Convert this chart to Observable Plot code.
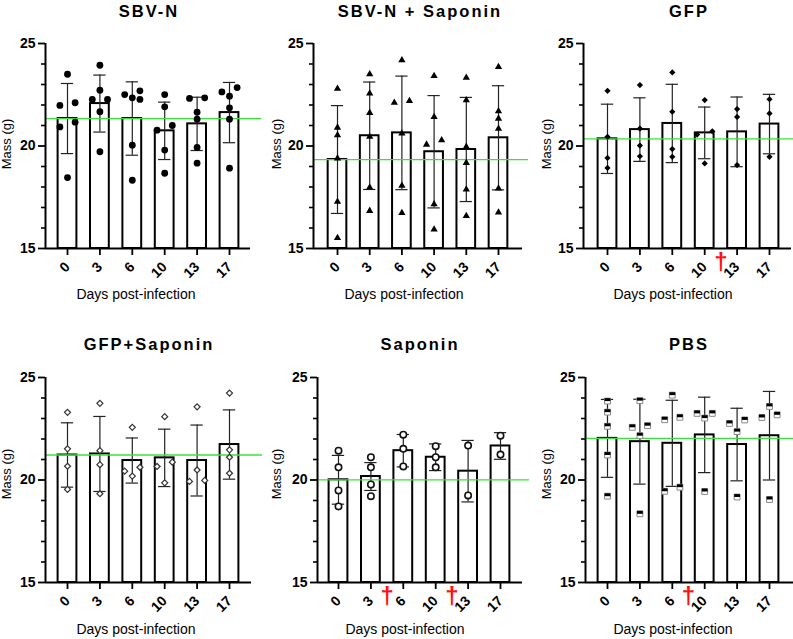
<!DOCTYPE html>
<html><head><meta charset="utf-8">
<script src="https://cdn.jsdelivr.net/npm/d3@7"></script>
<script src="https://cdn.jsdelivr.net/npm/@observablehq/plot@0.6"></script>
<style>
body{margin:0;background:#fff;}
#wrap{position:relative;width:793px;height:639px;overflow:hidden;background:#fff;font-family:"Liberation Sans",Arial,sans-serif;}
#wrap svg{position:absolute;overflow:visible;}
</style></head><body><div id="wrap"></div>
<script>
// ---------- data ----------
const days = ["0","3","6","10","13","17"];
const yMajorTicks = [15, 20, 25];
const yMinorTicks = [16, 17, 18, 19, 21, 22, 23, 24];
const titles = ["SBV-N", "SBV-N + Saponin", "GFP", "GFP+Saponin", "Saponin", "PBS"];
const xLabel = "Days post-infection";
const yLabel = "Mass (g)";

const sbvN_points = [
  [23.50, 22.11, 21.98, 21.16, 20.93, 18.46],
  [23.94, 22.72, 22.27, 22.27, 21.67, 19.72],
  [22.69, 22.51, 22.35, 22.27, 20.04, 18.33],
  [22.51, 21.91, 21.00, 20.77, 19.80, 18.67],
  [22.35, 22.32, 21.65, 21.31, 19.93, 19.16],
  [22.85, 22.64, 22.43, 21.86, 21.31, 18.92]
];
const sbvN_mean = [21.34, 22.07, 21.34, 20.74, 21.08, 21.63];
const sbvN_sd = [1.71, 1.39, 1.79, 1.40, 1.30, 1.47];
const sbvN_deaths = [];

const sbvNSap_points = [
  [22.80, 20.90, 20.53, 19.40, 17.28, 15.52],
  [23.50, 22.56, 21.62, 20.45, 17.98, 16.84],
  [24.19, 22.20, 22.11, 20.61, 18.06, 16.74],
  [23.42, 21.42, 20.28, 20.07, 17.16, 15.93],
  [23.33, 22.24, 19.96, 19.18, 17.88, 16.59],
  [23.86, 21.70, 21.34, 20.85, 17.93, 16.76]
];
const sbvNSap_mean = [19.34, 20.50, 20.64, 19.72, 19.83, 20.40];
const sbvNSap_sd = [2.63, 2.62, 2.77, 2.74, 2.54, 2.54];
const sbvNSap_deaths = [];

const gfp_points = [
  [22.69, 20.45, 19.42, 18.93],
  [22.97, 20.85, 20.02, 19.50],
  [23.59, 21.67, 19.85, 19.47],
  [22.24, 20.72, 20.56, 19.15],
  [21.80, 21.42, 19.07],
  [22.28, 21.59, 19.47]
];
const gfp_mean = [20.35, 20.80, 21.10, 20.64, 20.69, 21.07];
const gfp_sd = [1.69, 1.55, 1.91, 1.26, 1.70, 1.45];
const gfp_deaths = ["10"];

const gfpSap_points = [
  [23.30, 21.52, 20.67, 19.54],
  [23.74, 21.43, 20.75, 19.33],
  [22.57, 20.62, 20.43, 20.19],
  [23.09, 20.87, 20.66, 19.86],
  [23.57, 20.49, 19.98, 19.93],
  [24.24, 21.47, 21.11, 20.33]
];
const gfpSap_mean = [21.22, 21.27, 20.95, 21.08, 20.95, 21.73];
const gfpSap_sd = [1.57, 1.83, 1.10, 1.40, 1.73, 1.69];
const gfpSap_deaths = [];

const sap_points = [
  [21.43, 20.62, 19.49, 18.71],
  [21.11, 20.62, 19.78, 19.21],
  [22.21, 21.52, 20.66],
  [21.65, 21.11, 20.62],
  [21.68, 19.25],
  [22.16, 21.24]
];
const sap_mean = [20.01, 20.17, 21.43, 21.11, 20.43, 21.66];
const sap_sd = [1.19, 0.68, 0.79, 0.65, 1.50, 0.65];
const sap_deaths = ["3", "10"];

const pbs_points = [
  [23.85, 23.31, 22.62, 21.22, 19.21],
  [23.87, 22.65, 22.57, 22.16, 18.35],
  [24.14, 23.06, 22.94, 19.65, 19.45],
  [23.25, 23.25, 23.02, 19.44],
  [22.93, 22.76, 22.36, 19.17],
  [23.59, 23.18, 23.05, 19.05]
];
const pbs_mean = [22.03, 21.87, 21.79, 22.20, 21.73, 22.16];
const pbs_sd = [1.90, 2.07, 2.10, 1.84, 1.77, 2.16];
const pbs_deaths = ["6"];

// ---------- styling / layout ----------
const GREEN = "#3be03b";
const halfSquare = {
  draw(ctx, size) {
    const w = Math.sqrt(size);
    ctx.moveTo(-w / 2, -w / 2); ctx.lineTo(w / 2, -w / 2);
    ctx.lineTo(w / 2, 0); ctx.lineTo(-w / 2, 0); ctx.closePath();
  }
};
const symbolStyles = {
  filledCircle: [{symbol: "circle", r: 3.4, fill: "#000", stroke: "none"}],
  filledTriangle: [{symbol: "triangle", r: 2.7, fill: "#000", stroke: "none"}],
  filledDiamond: [{symbol: "diamond2", r: 2.8, fill: "#000", stroke: "none"}],
  openDiamond: [{symbol: "diamond2", r: 2.7, fill: "#fff", stroke: "#333", strokeWidth: 1.2}],
  openCircle: [{symbol: "circle", r: 3.2, fill: "#fff", stroke: "#111", strokeWidth: 1.6}],
  halfSquare: [{symbol: "square", r: 3.3, fill: "#fff", stroke: "#888", strokeWidth: 1},
               {symbol: halfSquare, r: 3.3, fill: "#000", stroke: "none"}]
};

const panels = [
  {title: titles[0], points: sbvN_points, mean: sbvN_mean, sd: sbvN_sd, deaths: sbvN_deaths, sym: "filledCircle",
   left: 0, top: 0, ax: 45, c0: 67, step: 32.4, axisEnd: 250, greenEnd: 261, yTop: 43, yBot: 248,
   titleX: 148, titleY: 17, yLabX: 11, yLabY: 144, xLabX: 136, xLabY: 299},
  {title: titles[1], points: sbvNSap_points, mean: sbvNSap_mean, sd: sbvNSap_sd, deaths: sbvNSap_deaths, sym: "filledTriangle",
   left: 265, top: 0, ax: 313, c0: 337, step: 32.2, axisEnd: 522, greenEnd: 528, yTop: 43, yBot: 248,
   titleX: 419, titleY: 17, yLabX: 281, yLabY: 144, xLabX: 404, xLabY: 299},
  {title: titles[2], points: gfp_points, mean: gfp_mean, sd: gfp_sd, deaths: gfp_deaths, sym: "filledDiamond",
   left: 530, top: 0, ax: 583, c0: 607, step: 32.4, axisEnd: 791, greenEnd: 793, yTop: 43, yBot: 248,
   titleX: 688, titleY: 17, yLabX: 551, yLabY: 144, xLabX: 673, xLabY: 299},
  {title: titles[3], points: gfpSap_points, mean: gfpSap_mean, sd: gfpSap_sd, deaths: gfpSap_deaths, sym: "openDiamond",
   left: 0, top: 320, ax: 45, c0: 67, step: 32.4, axisEnd: 251, greenEnd: 262, yTop: 377, yBot: 582,
   titleX: 148, titleY: 350, yLabX: 11, yLabY: 474, xLabX: 136, xLabY: 634},
  {title: titles[4], points: sap_points, mean: sap_mean, sd: sap_sd, deaths: sap_deaths, sym: "openCircle",
   left: 265, top: 320, ax: 317, c0: 338, step: 32.4, axisEnd: 522, greenEnd: 529, yTop: 377, yBot: 582,
   titleX: 419, titleY: 350, yLabX: 281, yLabY: 474, xLabX: 405, xLabY: 634},
  {title: titles[5], points: pbs_points, mean: pbs_mean, sd: pbs_sd, deaths: pbs_deaths, sym: "halfSquare",
   left: 530, top: 320, ax: 585, c0: 607, step: 32.4, axisEnd: 793, greenEnd: 793, yTop: 377, yBot: 582,
   titleX: 688, titleY: 350, yLabX: 551, yLabY: 474, xLabX: 673, xLabY: 634}
];

// horizontal spreading of close values (scatter lanes)
function lanes(vals) {
  const idx = vals.map((v, k) => k).sort((a, b) => vals[b] - vals[a]);
  const out = new Array(vals.length).fill(0);
  const pat = [1, -1, 0];
  let k = 0;
  while (k < idx.length) {
    let j = k;
    while (j + 1 < idx.length && vals[idx[j]] - vals[idx[j + 1]] < 0.3) j++;
    const n = j - k + 1;
    if (n > 1) for (let m = 0; m < n; m++) out[idx[k + m]] = pat[m % 3];
    k = j + 1;
  }
  return out;
}

const wrap = document.getElementById("wrap");
const FONT = "Liberation Sans, Arial, sans-serif";
const HW = 0.29, CAP = 0.19, LANE = 0.235;

for (const p of panels) {
  const rows = days.map((d, i) => ({i, mean: p.mean[i], sd: p.sd[i]}));
  const caps = rows.flatMap(r => [{i: r.i, y: r.mean + r.sd}, {i: r.i, y: r.mean - r.sd}]);
  const pts = p.points.flatMap((vs, i) => { const ln = lanes(vs); return vs.map((v, k) => ({i, v, lane: ln[k]})); });
  const xlo = (p.ax - p.c0) / p.step, xhi = (p.greenEnd - p.c0) / p.step, xEnd = (p.axisEnd - p.c0) / p.step;
  const width = p.greenEnd - p.left;
  const height = 310;
  const marks = [
    Plot.rect(rows, {x1: d => d.i - HW, x2: d => d.i + HW, y1: () => 15, y2: "mean", fill: "#fff", stroke: "#000", strokeWidth: 2}),
    Plot.ruleX(rows, {x: "i", y1: d => d.mean - d.sd, y2: d => d.mean + d.sd, stroke: "#222", strokeWidth: 1.2}),
    Plot.ruleY(caps, {y: "y", x1: d => d.i - CAP, x2: d => d.i + CAP, stroke: "#222", strokeWidth: 1.2}),
    Plot.ruleY([p.mean[0]], {x1: xlo, x2: xhi, stroke: GREEN, strokeWidth: 1.3}),
    ...symbolStyles[p.sym].map(s => Plot.dot(pts, {x: d => d.i + d.lane * LANE, y: "v", ...s})),
    Plot.ruleX([xlo], {y1: 15, y2: 25, stroke: "#000", strokeWidth: 2}),
    Plot.ruleY([15], {x1: xlo, x2: xEnd, stroke: "#000", strokeWidth: 2}),
    Plot.axisY({ticks: yMinorTicks, tickSize: 4, tickFormat: () => "", stroke: "#000", strokeWidth: 1.6, label: null}),
    Plot.axisY({ticks: yMajorTicks, tickSize: 7, tickPadding: 3, fontSize: 14, fontWeight: "bold", fontFamily: FONT, fill: "#000", stroke: "#000", strokeWidth: 1.8, label: null}),
    Plot.axisX({ticks: d3.range(days.length), tickFormat: i => days[i], tickRotate: -45, tickSize: 7, tickPadding: 9, fontSize: 14, fontWeight: "bold", fontFamily: FONT, fill: "#000", stroke: "#000", strokeWidth: 1.8, label: null}),
    Plot.text(p.deaths, {x: d => days.indexOf(d) + 0.5, y: () => 15, text: () => "\u2020", fill: "#ff1010", fontSize: 24, fontWeight: "bold", fontFamily: FONT, lineAnchor: "top", dy: 4})
  ];
  const svg = Plot.plot({
    width, height,
    marginLeft: p.ax - p.left, marginRight: 0,
    marginTop: p.yTop - p.top, marginBottom: height - (p.yBot - p.top),
    x: {type: "linear", domain: [xlo, xhi]},
    y: {domain: [15, 25]},
    style: {background: "transparent", overflow: "visible", fontFamily: FONT},
    marks
  });
  svg.style.left = p.left + "px";
  svg.style.top = p.top + "px";
  wrap.appendChild(svg);
}

// titles & axis labels
const NS = "http://www.w3.org/2000/svg";
const ov = document.createElementNS(NS, "svg");
ov.setAttribute("width", 793); ov.setAttribute("height", 639);
ov.style.left = "0px"; ov.style.top = "0px";
function addText(str, x, y, opts) {
  const t = document.createElementNS(NS, "text");
  t.setAttribute("x", x); t.setAttribute("y", y);
  t.setAttribute("text-anchor", "middle");
  t.setAttribute("font-family", FONT);
  for (const k in opts) t.setAttribute(k, opts[k]);
  t.textContent = str;
  ov.appendChild(t);
}
for (const p of panels) {
  addText(p.title, p.titleX + 1, p.titleY, {"font-size": 16.5, "font-weight": "bold", "letter-spacing": 2});
  addText(xLabel, p.xLabX, p.xLabY, {"font-size": 14});
  addText(yLabel, 0, 0, {"font-size": 13, transform: `translate(${p.yLabX},${p.yLabY}) rotate(-90)`});
}
wrap.appendChild(ov);
</script>
</body></html>
